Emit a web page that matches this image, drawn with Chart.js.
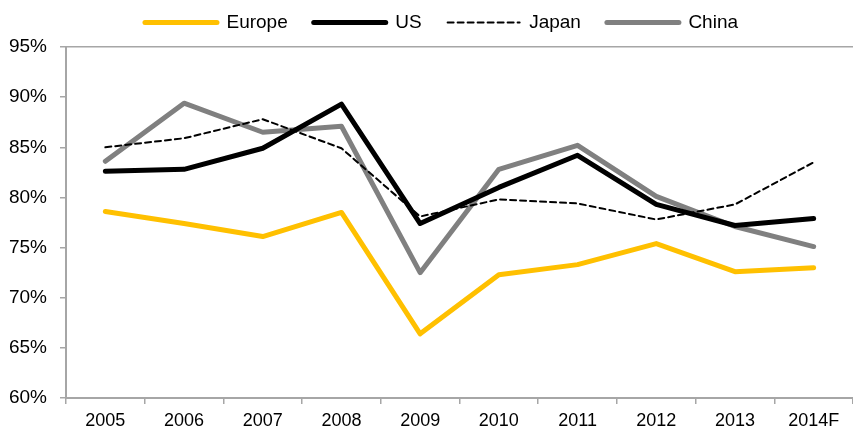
<!DOCTYPE html>
<html>
<head>
<meta charset="utf-8">
<script src="https://cdn.jsdelivr.net/npm/chart.js@4/dist/chart.umd.min.js"></script>
<style>
  html, body { margin: 0; padding: 0; background: #fff; }
  #wrap { width: 853px; height: 432px; position: relative; }
</style>
</head>
<body>
<div id="wrap"><canvas id="c" width="853" height="432"></canvas></div>
<script>
const categories = ['2005', '2006', '2007', '2008', '2009', '2010', '2011', '2012', '2013', '2014F'];
const europe = [78.6, 77.4, 76.1, 78.5, 66.4, 72.3, 73.3, 75.4, 72.6, 73.0];
const us     = [82.6, 82.8, 84.9, 89.3, 77.4, 81.0, 84.2, 79.3, 77.2, 77.9];
const japan  = [85.0, 85.9, 87.8, 84.9, 78.1, 79.8, 79.4, 77.8, 79.3, 83.5];
const china  = [83.6, 89.4, 86.5, 87.1, 72.5, 82.8, 85.2, 80.1, 77.1, 75.1];
const yTicks = [60, 65, 70, 75, 80, 85, 90, 95];

const FONT = "'Liberation Sans', Arial, sans-serif";
const AXIS = '#a6a6a6';

const legendFix = {
  id: 'legendFix',
  beforeLayout(chart) {
    const lg = chart.legend;
    if (lg && !lg._patched) {
      const orig = lg.fit.bind(lg);
      lg.fit = function () { orig(); this.height = 47; };
      lg._patched = true;
    }
  },
  afterLayout(chart) {
    const lg = chart.legend;
    if (!lg) return;
    lg.top -= 13; lg.bottom -= 13;
    lg.left += 15; lg.right += 15;
  }
};

new Chart(document.getElementById('c'), {
  type: 'line',
  plugins: [legendFix],
  data: {
    labels: categories,
    datasets: [
      { label: 'Europe', data: europe, borderColor: '#FFC000', backgroundColor: '#FFC000', borderWidth: 5 },
      { label: 'US', data: us, borderColor: '#000000', backgroundColor: '#000000', borderWidth: 5 },
      { label: 'Japan', data: japan, borderColor: '#000000', backgroundColor: '#000000', borderWidth: 2, borderDash: [6, 4] },
      { label: 'China', data: china, borderColor: '#808080', backgroundColor: '#808080', borderWidth: 5 }
    ]
  },
  options: {
    responsive: false,
    animation: false,
    devicePixelRatio: 1,
    layout: { padding: { left: 0, right: 0, top: 0, bottom: 0 } },
    elements: {
      point: { radius: 0, hoverRadius: 0 },
      line: { tension: 0, borderCapStyle: 'round', borderJoinStyle: 'round', fill: false }
    },
    plugins: {
      tooltip: { enabled: false },
      legend: {
        display: true,
        position: 'top',
        labels: {
          usePointStyle: true,
          pointStyle: 'line',
          pointStyleWidth: 72,
          padding: 26,
          color: '#000',
          font: { family: FONT, size: 19 },
          generateLabels(chart) {
            return chart.data.datasets.map((ds, i) => ({
              text: ds.label,
              datasetIndex: i,
              fillStyle: ds.borderColor,
              strokeStyle: ds.borderColor,
              lineWidth: ds.borderWidth,
              lineDash: ds.borderDash || [],
              lineCap: 'round',
              pointStyle: 'line',
              hidden: false,
              fontColor: '#000'
            }));
          }
        }
      }
    },
    scales: {
      x: {
        offset: true,
        afterFit(s) { s.height = 34; },
        grid: {
          offset: true,
          drawOnChartArea: false,
          drawTicks: true,
          tickLength: 6,
          tickColor: AXIS,
          color: AXIS,
          lineWidth: 1.5
        },
        border: { display: true, color: AXIS, width: 2 },
        ticks: { color: '#000', font: { family: FONT, size: 18 }, padding: 6, maxRotation: 0, autoSkip: false }
      },
      y: {
        min: 60,
        max: 95,
        afterFit(s) { s.width = 66; },
        afterBuildTicks(s) { s.ticks = yTicks.map(v => ({ value: v })); },
        grid: {
          drawTicks: true,
          tickLength: 6,
          tickColor: AXIS,
          color: (ctx) => (ctx.tick && ctx.tick.value === 95) ? AXIS : 'rgba(0,0,0,0)',
          lineWidth: 1.5
        },
        border: { display: true, color: AXIS, width: 2 },
        ticks: {
          color: '#000',
          font: { family: FONT, size: 19 },
          padding: 13,
          callback: (v) => v + '%'
        }
      }
    }
  }
});
</script>
</body>
</html>
